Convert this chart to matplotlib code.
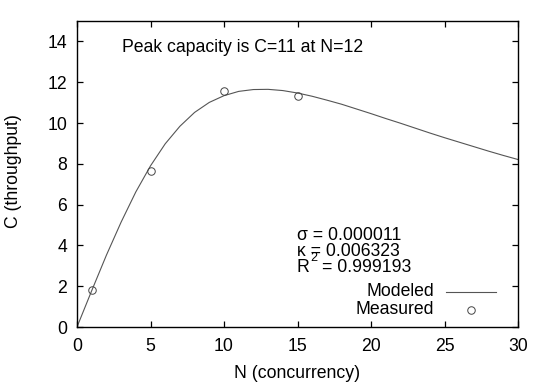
import matplotlib
matplotlib.use("Agg")
import matplotlib.pyplot as plt

# Measured data
measured_n = [1, 5, 10, 15]
measured_c = [1.81, 7.64, 11.55, 11.33]

# Modeled curve
model_n = list(range(0, 31))
model_c = [0.0, 1.78, 3.52, 5.14, 6.62, 7.90, 8.98, 9.84, 10.52, 11.01,
           11.34, 11.55, 11.64, 11.65, 11.59, 11.47, 11.31, 11.12, 10.92,
           10.69, 10.46, 10.22, 9.99, 9.75, 9.51, 9.28, 9.06, 8.84, 8.62,
           8.41, 8.21]

x_ticks = [0, 5, 10, 15, 20, 25, 30]
y_ticks = [0, 2, 4, 6, 8, 10, 12, 14]

title_text = "Peak capacity is C=11 at N=12"
sigma_text = "σ = 0.000011"
kappa_text = "κ = 0.006323"

plt.rcParams['font.family'] = ['Liberation Sans', 'DejaVu Sans']

W, H = 550, 384
fig = plt.figure(figsize=(W / 100, H / 100), dpi=100)
L, R, T, B = 77, 518, 21, 327
ax = fig.add_axes([L / W, 1 - B / H, (R - L) / W, (B - T) / H])

ax.plot(model_n, model_c, color='#555555', lw=0.8, label='Modeled')
ax.plot(measured_n, measured_c, ls='none', marker='o', ms=5.4, mfc='none',
        mec='#444444', mew=0.7, label='Measured')

ax.set_xlim(0, 30)
ax.set_ylim(0, 15)
ax.set_xticks(x_ticks)
ax.set_yticks(y_ticks)
fs = 12.7
ax.tick_params(direction='in', length=4, width=0.9, top=True, right=True,
               labelsize=fs, pad=7)
ax.tick_params(axis='x', pad=8)
for s in ax.spines.values():
    s.set_linewidth(1.0)

fig.text(297.5 / W, 1 - 373 / H, "N (concurrency)", ha='center', va='center', fontsize=fs)
fig.text(14 / W, 1 - 171 / H, "C (throughput)", ha='center', va='center',
         rotation=90, fontsize=fs)
fig.text(243 / W, 1 - 48 / H, title_text, ha='center', va='center', fontsize=fs)

fig.text(297 / W, 1 - 235 / H, sigma_text, ha='left', va='center', fontsize=fs)
fig.text(297 / W, 1 - 251 / H, kappa_text, ha='left', va='center', fontsize=fs)
fig.text(297 / W, 1 - 268 / H, "R", ha='left', va='center', fontsize=fs)
fig.text(322 / W, 1 - 268 / H, "= 0.999193", ha='left', va='center', fontsize=fs)
fig.text(310 / W, 1 - 258 / H, "2", ha='left', va='center', fontsize=9)

# legend (gnuplot style)
fig.text(434 / W, 1 - 292 / H, "Modeled", ha='right', va='center', fontsize=fs)
fig.text(434 / W, 1 - 310 / H, "Measured", ha='right', va='center', fontsize=fs)
fig.add_artist(matplotlib.lines.Line2D([446 / W, 496 / W], [1 - 291.5 / H, 1 - 291.5 / H],
                                       color='#555555', lw=0.8))
fig.add_artist(matplotlib.lines.Line2D([471 / W], [1 - 310 / H], ls='none', marker='o',
                                       ms=5.4, mfc='none', mec='#444444', mew=0.7))

fig.savefig("out.png", dpi=100)
